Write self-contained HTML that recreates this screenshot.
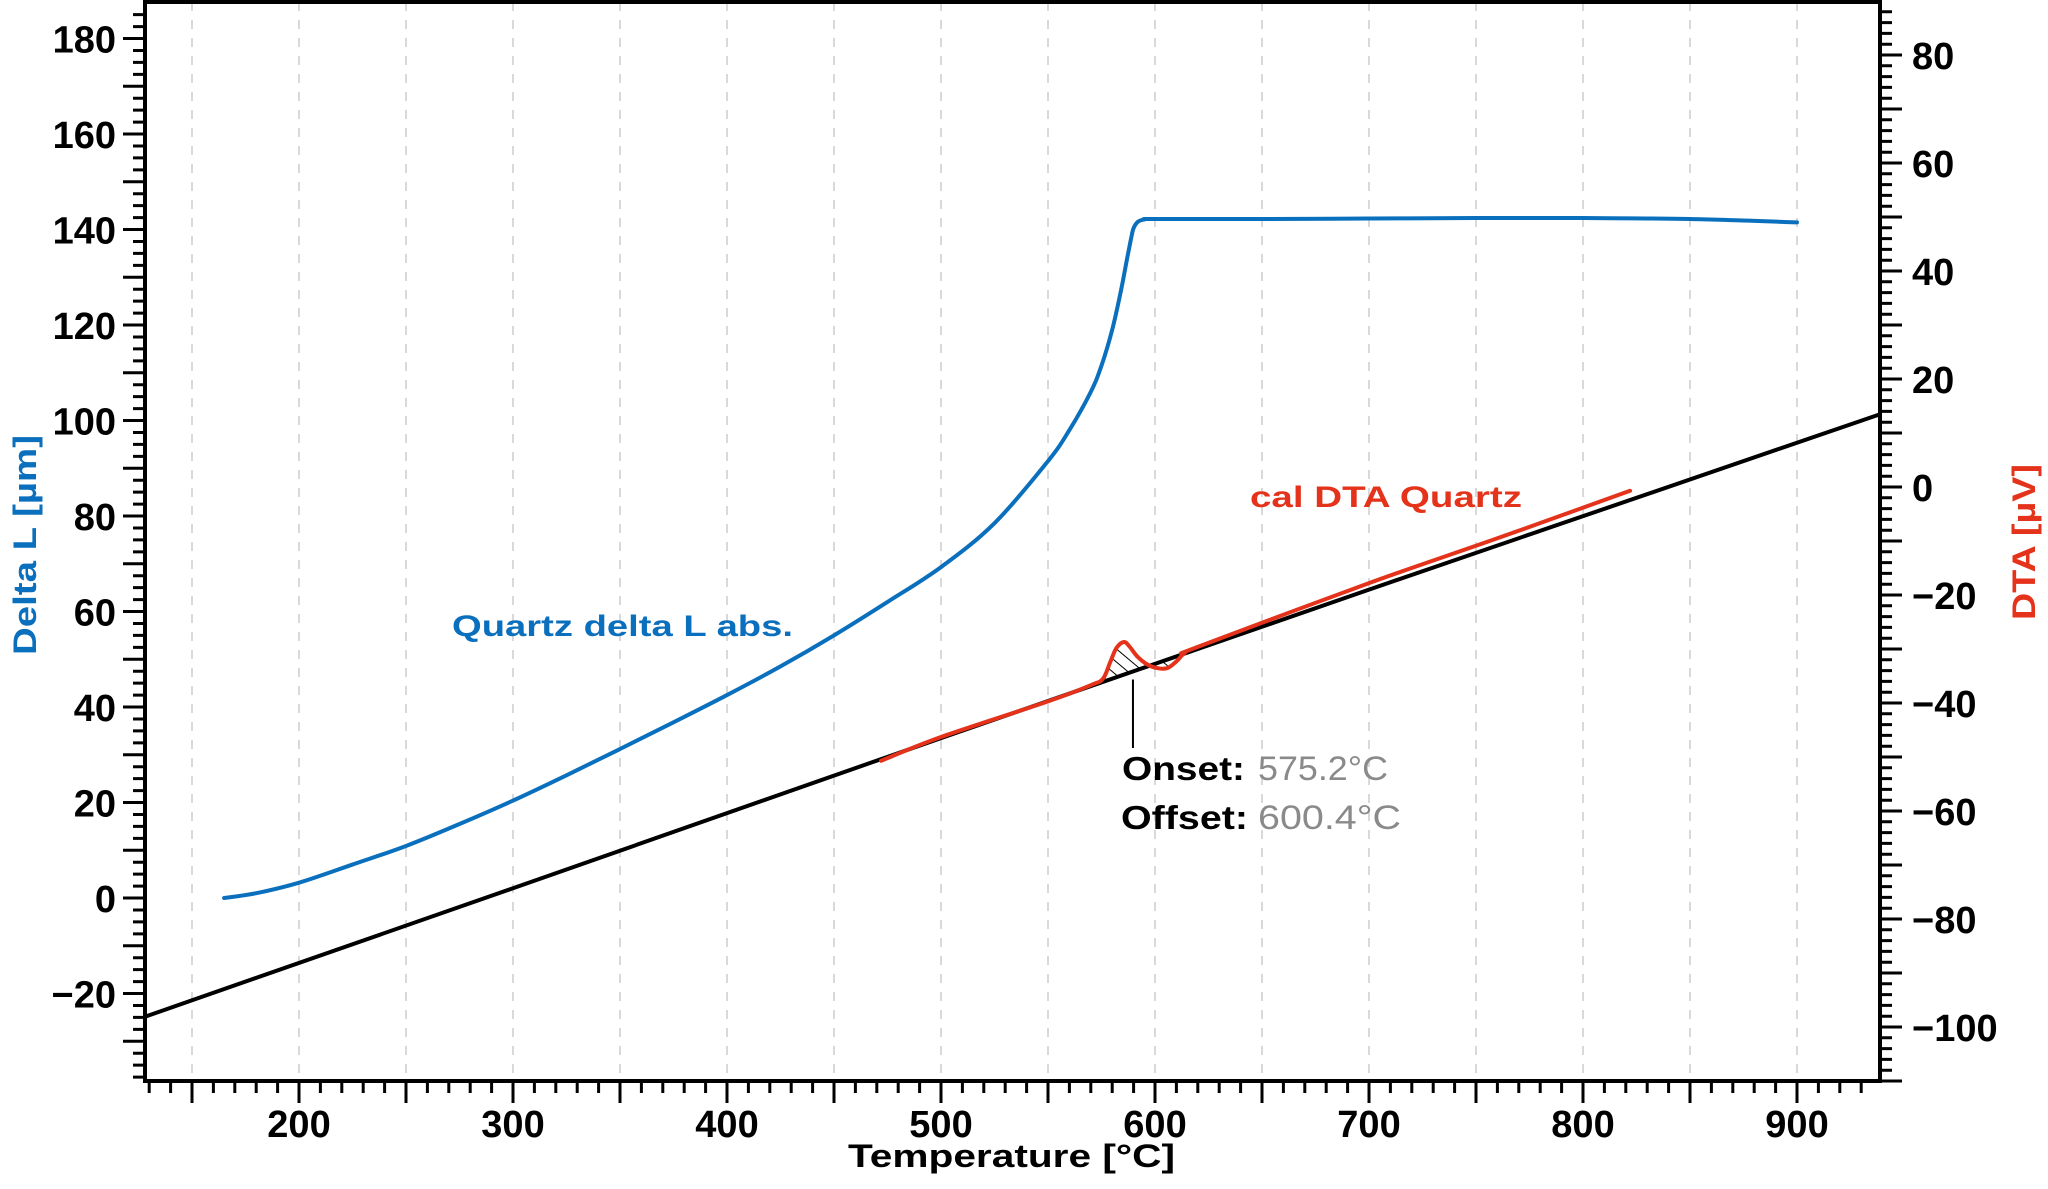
<!DOCTYPE html>
<html><head><meta charset="utf-8"><style>
html,body{margin:0;padding:0;background:#fff;}
svg{display:block;font-family:"Liberation Sans",sans-serif;}
</style></head><body>
<svg id="chart" width="2048" height="1189" viewBox="0 0 2048 1189" xmlns="http://www.w3.org/2000/svg">
<defs>
<pattern id="hatch" patternUnits="userSpaceOnUse" width="10" height="10" patternTransform="rotate(-50)">
<line x1="0" y1="0" x2="0" y2="10" stroke="#000" stroke-width="2"/>
</pattern>
<clipPath id="plotclip"><rect x="145" y="2" width="1735" height="1079"/></clipPath>
</defs>
<g id="grid"></g>
<g id="series" clip-path="url(#plotclip)"></g>
<g id="axes"></g>
<text x="452" y="636" font-size="30" font-weight="bold" fill="#0a6fbd" textLength="341" lengthAdjust="spacingAndGlyphs">Quartz delta L abs.</text>
<text x="1250" y="507" font-size="30" font-weight="bold" fill="#e4321b" textLength="272" lengthAdjust="spacingAndGlyphs">cal DTA Quartz</text>
<text x="1122" y="780" font-size="33" font-weight="bold" fill="#000" textLength="123" lengthAdjust="spacingAndGlyphs">Onset:</text>
<text x="1258" y="780" font-size="34" fill="#8a8a8a" textLength="130" lengthAdjust="spacingAndGlyphs">575.2°C</text>
<text x="1121" y="829" font-size="33" font-weight="bold" fill="#000" textLength="127" lengthAdjust="spacingAndGlyphs">Offset:</text>
<text x="1258" y="829" font-size="34" fill="#8a8a8a" textLength="143" lengthAdjust="spacingAndGlyphs">600.4°C</text>
<text x="848" y="1167" font-size="32" font-weight="bold" fill="#000" textLength="327" lengthAdjust="spacingAndGlyphs">Temperature [°C]</text>
<text transform="translate(36,655) rotate(-90)" font-size="32" font-weight="bold" fill="#0a6fbd" textLength="220" lengthAdjust="spacingAndGlyphs">Delta L [µm]</text>
<text transform="translate(2035,620) rotate(-90)" font-size="32" font-weight="bold" fill="#e4321b" textLength="156" lengthAdjust="spacingAndGlyphs">DTA [µV]</text>
</svg>
<script>
const blueT = [165,180,200,225,250,275,300,325,350,375,400,425,450,475,500,525,550,560,570,575,580,584,587,589,590,592,595,600,650,700,750,800,850,900];
const blueV = [0,1.0,3.2,7,10.9,15.5,20.4,25.7,31.2,36.8,42.5,48.5,55,62,69.3,78.5,91.5,98,106,111.5,119,127,134,138.5,140.3,141.6,142.1,142.2,142.2,142.3,142.4,142.4,142.2,141.5];
const redT = [472,500,550,570,575.7,579,582,585.5,588,592,597,602,606,610,614,620,700,760,822];
const redV = [-50.7,-46.3,-39.7,-36.7,-35.5,-32.5,-29.8,-28.7,-29.5,-31.5,-33.0,-33.6,-33.5,-32.3,-30.7,-29.6,-17.8,-9.5,-0.7];
const blackT = [128,300,500,700,939];
const blackV = [-98.1,-74.3,-46.5,-19.0,13.5];
const hatchStart = 575.7;
const hatchEnd = 606;
const markerT = 589.7;
const xTickLabels = [200,300,400,500,600,700,800,900];
const leftTickLabels = [-20,0,20,40,60,80,100,120,140,160,180];
const rightTickLabels = [-100,-80,-60,-40,-20,0,20,40,60,80];

const NS = "http://www.w3.org/2000/svg";
const L = 145, R = 1880, T = 2, B = 1081;
const xS = v => 299 + (v - 200) * 2.14;
const yL = v => 898 - v * 4.775;
const yR = v => 487 - v * 5.4;
function mk(tag, attrs, parent){ const e=document.createElementNS(NS,tag); for(const k in attrs) e.setAttribute(k,attrs[k]); parent.appendChild(e); return e; }
const grid=document.getElementById('grid'), series=document.getElementById('series'), axes=document.getElementById('axes');

for(let v=150; v<=900; v+=50){
  const g=mk('line',{x1:xS(v),x2:xS(v),y1:T,y2:B,stroke:'#d9d9d9','stroke-width':2,'stroke-dasharray':'9 9'},grid);
  
  
}
function blackAt(t){ for(let i=0;i<blackT.length-1;i++){ if(t<=blackT[i+1]){ const f=(t-blackT[i])/(blackT[i+1]-blackT[i]); return blackV[i]+f*(blackV[i+1]-blackV[i]); } } return blackV[blackV.length-1]; }
let hp=[];
for(let i=0;i<redT.length;i++){ if(redT[i]>=hatchStart && redT[i]<=hatchEnd) hp.push([xS(redT[i]),yR(redV[i])]); }
hp.push([xS(hatchEnd),yR(blackAt(hatchEnd))]); hp.push([xS(hatchStart),yR(blackAt(hatchStart))]);
const ha=mk('polygon',{points:hp.map(p=>p.join(',')).join(' '),fill:'url(#hatch)'},series);


function smoothPath(pts){
  let d=`M${pts[0][0]},${pts[0][1]}`;
  for(let i=0;i<pts.length-1;i++){
    const p0=pts[Math.max(0,i-1)], p1=pts[i], p2=pts[i+1], p3=pts[Math.min(pts.length-1,i+2)];
    const c1=[p1[0]+(p2[0]-p0[0])/6, p1[1]+(p2[1]-p0[1])/6];
    const c2=[p2[0]-(p3[0]-p1[0])/6, p2[1]-(p3[1]-p1[1])/6];
    d+=` C${c1[0]},${c1[1]} ${c2[0]},${c2[1]} ${p2[0]},${p2[1]}`;
  }
  return d;
}
function curve(ts,vs,ys,color,w,name,smooth){
  const pts=ts.map((t,i)=>[xS(t),ys(vs[i])]);
  const d=smooth?smoothPath(pts):'M'+pts.map(p=>p.join(',')).join(' L');
  const p=mk('path',{d:d,fill:'none',stroke:color,'stroke-width':w,'stroke-linejoin':'round','stroke-linecap':'round'},series);
  
  
}
curve(blackT,blackV,yR,'#000',4,'baseline-line',false);
curve(redT,redV,yR,'#e4321b',4,'dta-quartz-line',true);
curve(blueT,blueV,yL,'#0a6fbd',4,'delta-l-line',true);
const mkr=mk('line',{x1:xS(markerT),x2:xS(markerT),y1:yR(blackAt(markerT))+8,y2:748,stroke:'#000','stroke-width':2},series);



const fr=mk('path',{d:`M${L},${B+2} L${L},${T} L${R},${T} L${R},${B} L${L-2},${B}`,fill:'none',stroke:'#000','stroke-width':4},axes);


let d='';
for(let v=130; v<=930; v+=10){ const x=xS(v); d+=`M${x},${B} L${x},${B+(v%50===0?22:12)} `; }
for(let k=-15; k<=75; k++){ const v=k*2.5; const y=yL(v); if(y<T+4||y>B) continue; d+=`M${L},${y} L${L-(k%4===0?22:12)},${y} `; }
for(let v=-110; v<=90; v+=2){ const y=yR(v); if(y<T+4||y>B+2) continue; d+=`M${R},${y} L${R+(v%10===0?22:12)},${y} `; }
const tk=mk('path',{d:d,stroke:'#000','stroke-width':3,fill:'none'},axes);


const fmt=v=>v<0?'\u2212'+Math.abs(v):String(v);
xTickLabels.forEach(v=>{ const t=mk('text',{x:xS(v),y:1137,'text-anchor':'middle','font-size':38,'font-weight':'bold'},axes); t.textContent=fmt(v);
  
   });
leftTickLabels.forEach(v=>{ const t=mk('text',{x:116,y:yL(v)+14,'text-anchor':'end','font-size':38,'font-weight':'bold'},axes); t.textContent=fmt(v);
  
   });
rightTickLabels.forEach(v=>{ const t=mk('text',{x:1912,y:yR(v)+14,'text-anchor':'start','font-size':38,'font-weight':'bold'},axes); t.textContent=fmt(v);
  
   });
</script>
</body></html>
